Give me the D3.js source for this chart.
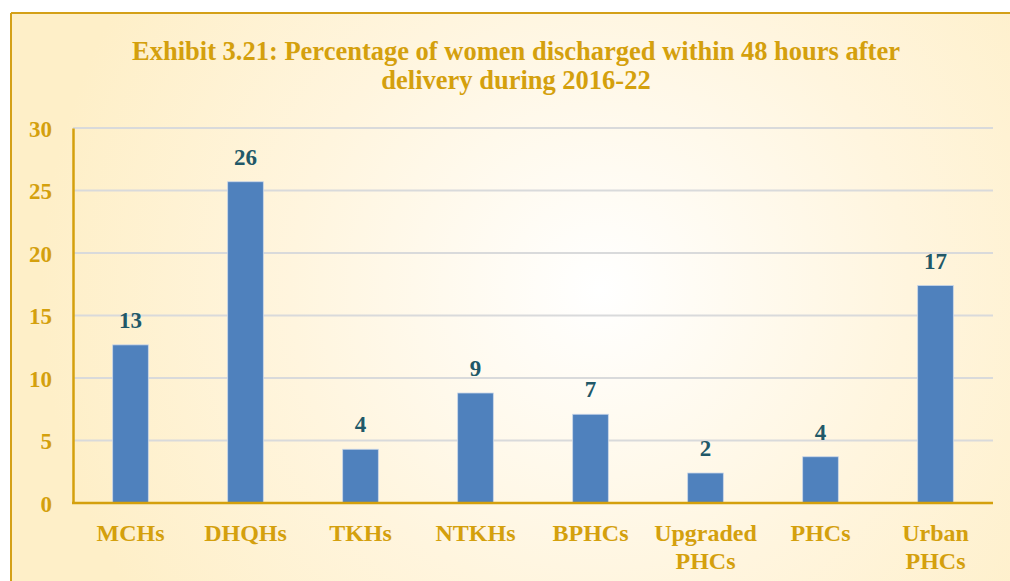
<!DOCTYPE html>
<html><head><meta charset="utf-8">
<script src="https://cdn.jsdelivr.net/npm/d3@7"></script>
<style>html,body{margin:0;padding:0;background:#fff;}svg{display:block;}
svg text{font-family:"Liberation Serif","Times New Roman",Times,"DejaVu Serif",serif;font-weight:bold;}</style>
</head><body>
<script>
const categories = [["MCHs"],["DHQHs"],["TKHs"],["NTKHs"],["BPHCs"],["Upgraded","PHCs"],["PHCs"],["Urban","PHCs"]];
const values = [12.65, 25.7, 4.3, 8.8, 7.1, 2.4, 3.7, 17.4];
const labels = ["13","26","4","9","7","2","4","17"];
const yTicks = [0,5,10,15,20,25,30];
const titleLines = ["Exhibit 3.21: Percentage of women discharged within 48 hours after","delivery during 2016-22"];

const W = 1010, H = 581;
const svg = d3.select("body").append("svg").attr("width", W).attr("height", H);
const defs = svg.append("defs");
const rg = defs.append("radialGradient").attr("id","bg").attr("gradientUnits","userSpaceOnUse")
  .attr("cx",600).attr("cy",290).attr("r",560);
rg.append("stop").attr("offset","0%").attr("stop-color","#ffffff");
rg.append("stop").attr("offset","55%").attr("stop-color","#fff5de");
rg.append("stop").attr("offset","100%").attr("stop-color","#feefc8");

svg.append("rect").attr("x",11).attr("y",13).attr("width",W).attr("height",H).attr("fill","url(#bg)");
svg.append("line").attr("x1",11).attr("x2",W).attr("y1",13).attr("y2",13).attr("stroke","#d4a017").attr("stroke-width",2);
svg.append("line").attr("x1",11).attr("x2",11).attr("y1",13).attr("y2",H).attr("stroke","#d4a017").attr("stroke-width",2);

const gold = "#d4a00d";
const t = svg.append("text").attr("text-anchor","middle")
  .attr("font-size",26.5).attr("fill",gold);
titleLines.forEach((l,i)=>t.append("tspan").attr("x",516).attr("y",60+i*29).text(l));

const x = d3.scaleBand().domain(d3.range(categories.length)).range([73,993]).paddingInner(0.69).paddingOuter(0.345);
const y = d3.scaleLinear().domain([0,30]).range([503,128]);

const grid = svg.append("g");
grid.selectAll("line").data(yTicks.filter(d=>d>0)).join("line")
  .attr("x1",73).attr("x2",993).attr("y1",d=>y(d)).attr("y2",d=>y(d))
  .attr("stroke","#d9dadb").attr("stroke-width",2);

svg.append("g").selectAll("rect").data(values).join("rect")
  .attr("x",(d,i)=>x(i)).attr("width",x.bandwidth())
  .attr("y",d=>y(d)).attr("height",d=>y(0)-y(d))
  .attr("fill","#4f81bd").attr("stroke","#c9d6e8").attr("stroke-width",0.8);

svg.append("g").selectAll("text").data(values).join("text")
  .attr("x",(d,i)=>x(i)+x.bandwidth()/2).attr("y",d=>y(d)-17)
  .attr("text-anchor","middle")
  .attr("font-size",23).attr("fill","#215868").text((d,i)=>labels[i]);

const yAxis = d3.axisLeft(y).tickValues(yTicks).tickSize(0).tickPadding(21);
const ya = svg.append("g").attr("transform","translate(73,0)").call(yAxis);
ya.attr("font-family",null).attr("font-size",null);
ya.select(".domain").attr("stroke",gold).attr("stroke-width",2.5);
ya.selectAll("text").attr("font-size",23).attr("fill",gold).attr("dy","0.35em");

svg.append("line").attr("x1",72).attr("x2",993).attr("y1",y(0)).attr("y2",y(0)).attr("stroke",gold).attr("stroke-width",2.5);

const xl = svg.append("g").selectAll("text").data(categories).join("text")
  .attr("text-anchor","middle")
  .attr("font-size",24).attr("fill",gold);
xl.each(function(d,i){
  const s = d3.select(this);
  d.forEach((l,j)=>s.append("tspan").attr("x",x(i)+x.bandwidth()/2).attr("y",541+j*28).text(l));
});
</script>
</body></html>
